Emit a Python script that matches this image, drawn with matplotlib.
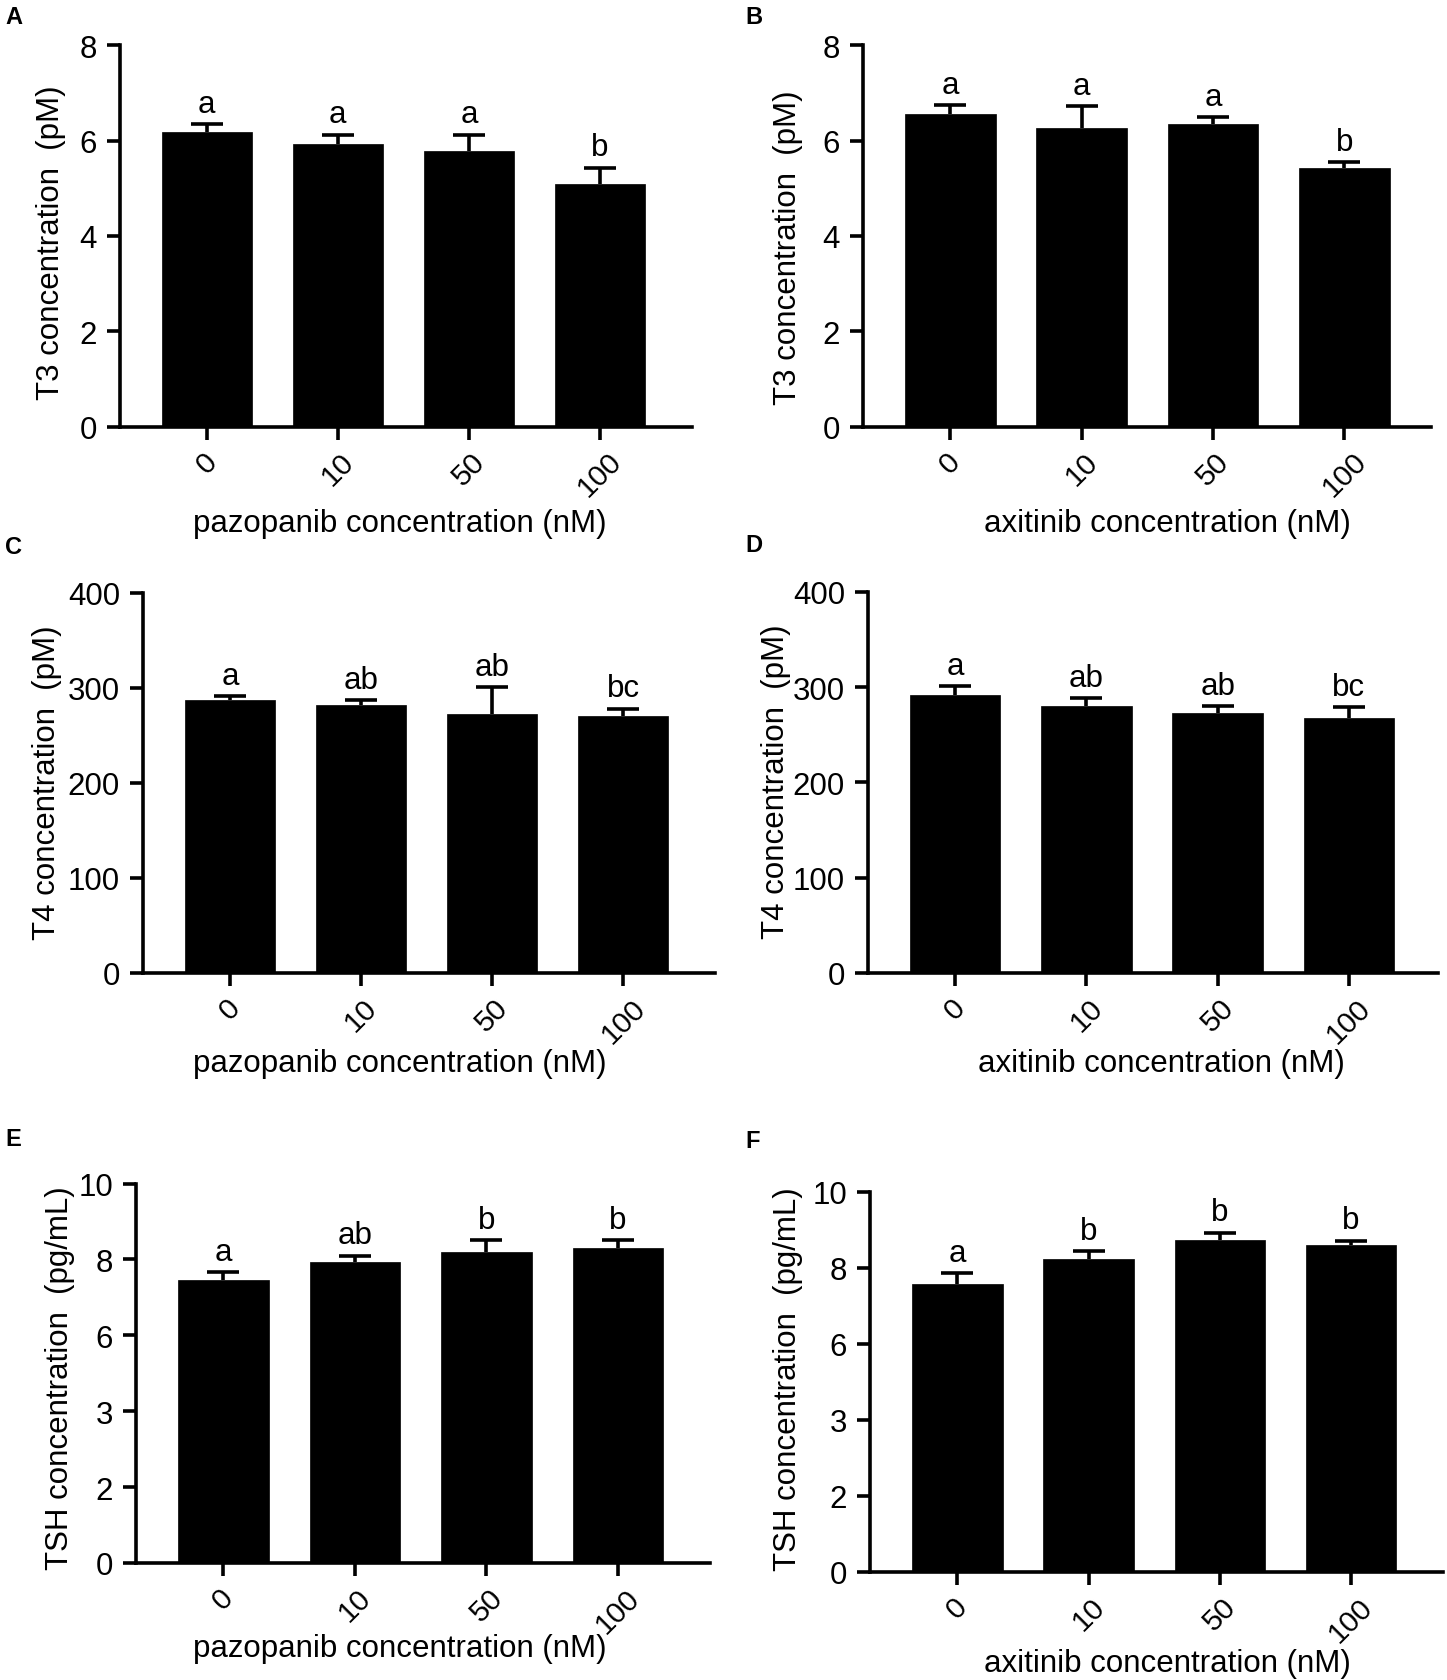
import matplotlib
matplotlib.use('Agg')
import matplotlib.pyplot as plt
from matplotlib.transforms import ScaledTranslation
import numpy as np

plt.rcParams['font.family'] = ['Liberation Sans', 'DejaVu Sans']

# ---------------- data ----------------
categories = ['0', '10', '50', '100']

t3_paz = [6.18, 5.94, 5.79, 5.10]
t3_paz_err = [0.17, 0.18, 0.33, 0.33]
t3_paz_sig = ['a', 'a', 'a', 'b']

t3_axi = [6.57, 6.26, 6.36, 5.43]
t3_axi_err = [0.17, 0.46, 0.13, 0.12]
t3_axi_sig = ['a', 'a', 'a', 'b']

t4_paz = [287.3, 281.3, 272.7, 270.4]
t4_paz_err = [3.7, 5.3, 27.8, 7.2]
t4_paz_sig = ['a', 'ab', 'ab', 'bc']

t4_axi = [291.3, 280.4, 272.9, 268.0]
t4_axi_err = [9.7, 7.9, 6.8, 10.9]
t4_axi_sig = ['a', 'ab', 'ab', 'bc']

tsh_paz = [7.45, 7.93, 8.20, 8.29]
tsh_paz_err = [0.21, 0.17, 0.31, 0.22]
tsh_paz_sig = ['a', 'ab', 'b', 'b']

tsh_axi = [7.58, 8.22, 8.73, 8.59]
tsh_axi_err = [0.27, 0.21, 0.19, 0.12]
tsh_axi_sig = ['a', 'b', 'b', 'b']

t3_ticks = [0, 2, 4, 6, 8]
t4_ticks = [0, 100, 200, 300, 400]
tsh_ticks = [0, 2, 4, 6, 8, 10]
tsh_tick_labels = ['0', '2', '3', '6', '8', '10']

# ---------------- layout (pixels) ----------------
W, H = 1447, 1681
fig = plt.figure(figsize=(W / 100, H / 100), dpi=100)

LW = 2.6
FS = 22.5


def make_panel(letter, box, letter_xy, means, errs, sig, ticks, tick_labels,
               ylabel, ylabel_xy, xlabel, xlabel_xy, xright):
    l, t, r, b = box
    ax = fig.add_axes([l / W, 1 - b / H, (r - l) / W, (b - t) / H])
    x = np.arange(len(categories))
    means = np.array(means)
    errs = np.array(errs)

    ax.bar(x, means, width=0.69, color='black', edgecolor='black',
           linewidth=0.5, zorder=3)
    eb = ax.errorbar(x, means, yerr=[np.zeros_like(errs), errs], fmt='none',
                     ecolor='black', elinewidth=LW, capsize=11.5,
                     capthick=LW, zorder=2)
    for cl in eb[1]:
        if np.allclose(cl.get_ydata(), means):
            cl.set_visible(False)

    for xi, m, e, s in zip(x, means, errs, sig):
        ax.annotate(s, (xi, m + e), xytext=(0, 9), textcoords='offset points',
                    ha='center', va='baseline', fontsize=FS)

    ax.set_xlim(-0.665, xright)
    ax.set_ylim(ticks[0], ticks[-1])
    ax.set_yticks(ticks)
    ax.set_yticklabels(tick_labels if tick_labels else [str(v) for v in ticks])
    ax.set_xticks(x)
    ax.set_xticklabels(categories, rotation=45, ha='center', va='top',
                       fontsize=21.5)
    shift = ScaledTranslation(-6 / 100, 0, fig.dpi_scale_trans)
    for lbl in ax.get_xticklabels():
        lbl.set_transform(lbl.get_transform() + shift)

    for side in ['top', 'right']:
        ax.spines[side].set_visible(False)
    for side in ['left', 'bottom']:
        ax.spines[side].set_linewidth(LW)
    ax.tick_params(axis='both', width=LW, length=9.5, direction='out')
    ax.tick_params(axis='y', pad=7, labelsize=FS)
    ax.tick_params(axis='x', pad=5)

    ax.set_ylabel(ylabel, fontsize=FS, va='center', ha='center')
    ax.yaxis.set_label_coords((ylabel_xy[0] - l) / (r - l),
                              (b - ylabel_xy[1]) / (b - t))
    ax.set_xlabel(xlabel, fontsize=FS, va='center', ha='center')
    ax.xaxis.set_label_coords((xlabel_xy[0] - l) / (r - l),
                              (b - xlabel_xy[1]) / (b - t))

    fig.text(letter_xy[0] / W, 1 - letter_xy[1] / H, letter,
             fontsize=17, fontweight='bold', ha='left', va='center')
    return ax


make_panel('A', (119.6, 46.4, 691.7, 427.5), (5, 18), t3_paz, t3_paz_err,
           t3_paz_sig, t3_ticks, None, 'T3 concentration  (pM)', (51, 243),
           'pazopanib concentration (nM)', (400, 524), 3.70)
make_panel('B', (863, 46.4, 1431, 427.5), (745, 17), t3_axi, t3_axi_err,
           t3_axi_sig, t3_ticks, None, 'T3 concentration  (pM)', (788, 248),
           'axitinib concentration (nM)', (1167, 524), 3.66)
make_panel('C', (143, 593.6, 715, 973.8), (5, 548), t4_paz, t4_paz_err,
           t4_paz_sig, t4_ticks, None, 'T4 concentration  (pM)', (47, 783),
           'pazopanib concentration (nM)', (400, 1064), 3.70)
make_panel('D', (868, 592.8, 1438, 973.8), (745, 546), t4_axi, t4_axi_err,
           t4_axi_sig, t4_ticks, None, 'T4 concentration  (pM)', (776, 782),
           'axitinib concentration (nM)', (1161, 1064), 3.68)
make_panel('E', (136, 1184.5, 710, 1564), (5, 1140), tsh_paz, tsh_paz_err,
           tsh_paz_sig, tsh_ticks, tsh_tick_labels,
           'TSH concentration  (pg/mL)', (60, 1378),
           'pazopanib concentration (nM)', (400, 1649), 3.70)
make_panel('F', (870, 1192.6, 1443, 1573), (745, 1141), tsh_axi, tsh_axi_err,
           tsh_axi_sig, tsh_ticks, tsh_tick_labels,
           'TSH concentration  (pg/mL)', (788, 1379),
           'axitinib concentration (nM)', (1167, 1664), 3.70)

fig.savefig('out.png', dpi=100)
